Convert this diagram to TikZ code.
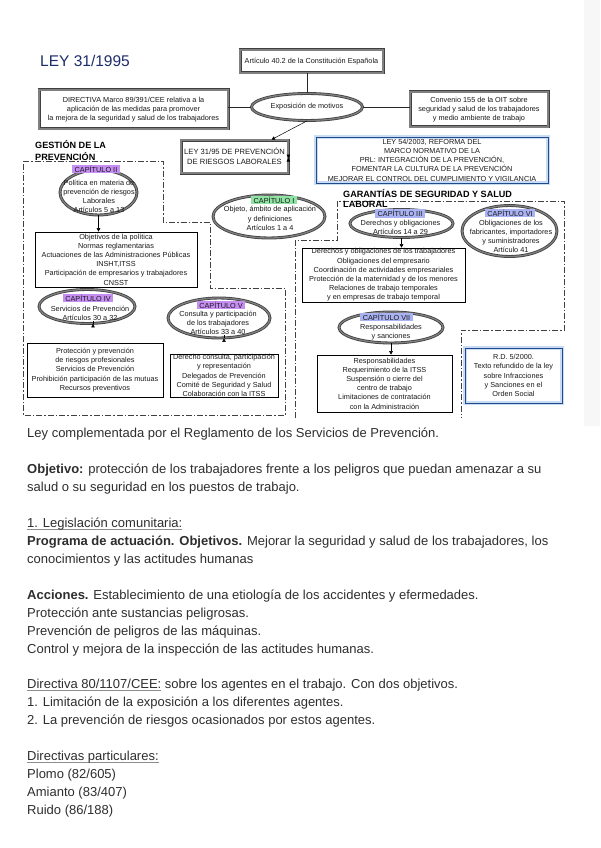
\documentclass[tikz,border=0pt]{standalone}
\usepackage{fontspec}
\setmainfont{Liberation Sans}
\usetikzlibrary{shapes.geometric,arrows.meta,calc}
\definecolor{titleblue}{HTML}{1F2D6B}
\definecolor{hlpurple}{HTML}{C68DF3}
\definecolor{hlgreen}{HTML}{8FE3A3}
\definecolor{hlblue}{HTML}{A9B2F3}
\definecolor{rdblue}{HTML}{1F4A8C}
\definecolor{glowblue}{HTML}{C9DCF4}
\definecolor{bodytext}{HTML}{2E2E2E}
\definecolor{pagegray}{HTML}{F7F7F7}
\newcommand\grayul[1]{\setbox0\hbox{#1}\leavevmode\rlap{\color{black!45}\rule[-2.4pt]{\wd0}{0.7pt}}\box0\relax}
\tikzset{
 small/.style={font=\fontsize{7.3}{9.2}\selectfont, align=center, inner sep=0pt, text=black!90},
 dbox/.style={draw=black!75, line width=0.8pt, double=black!50, double distance=1.4pt},
 pbox/.style={draw=black, line width=0.6pt},
 bbox/.style={draw=rdblue, line width=0.9pt, preaction={draw=glowblue, line width=4pt}},
 oval/.style={ellipse, draw=black!75, line width=0.8pt, double=black!50, double distance=1.3pt, inner sep=0pt},
 region/.style={draw=black!75, line width=0.7pt, dash pattern=on 6pt off 2pt on 1.5pt off 2pt},
 arr/.style={-{Triangle[length=3.5pt,width=3.5pt]}, line width=0.5pt},
 dblarr/.style={{Triangle[length=3.5pt,width=3.5pt]}-{Triangle[length=3.5pt,width=3.5pt]}, line width=0.6pt},
 ln/.style={line width=0.6pt, draw=black!85},
 lbl/.style={small, inner xsep=2.5pt, inner ysep=1pt},
 head/.style={font=\fontsize{9.1}{10}\selectfont\bfseries, anchor=base west, inner sep=0pt},
 body/.style={font=\fontsize{13}{15}\selectfont, anchor=base west, inner sep=0pt, text=bodytext},
}
\begin{document}
\begin{tikzpicture}[x=1pt,y=-1pt]
\useasboundingbox (0,0) rectangle (600,848);
\fill[white] (0,0) rectangle (600,848);
\fill[pagegray] (584,0) rectangle (600,426);

% dash-dot regions
\draw[region] (23,161) -- (163,161) -- (163,222) -- (210,222) -- (210,288) -- (285,288) -- (285,415) -- (23,415) -- cycle;
\draw[region] (295,418) -- (295,240) -- (337,240) -- (337,201) -- (564,201) -- (564,330) -- (461,330) -- (461,418);

% title and headings
\node[font=\fontsize{15.5}{18}\selectfont, text=titleblue, anchor=base west, inner sep=0pt] (title) at (40,67) {LEY 31/1995};
\node[head] (gest1) at (35,149) {GESTIÓN DE LA};
\node[head] (gest2) at (35,160) {PREVENCIÓN};
\node[head] (gar1) at (343,197) {GARANTÍAS DE SEGURIDAD Y SALUD};
\node[head] (gar2) at (343,207) {LABORAL};

% top boxes
\node[dbox, small, minimum width=143, minimum height=23] (art) at (311.5,61.5) {Artículo 40.2 de la Constitución Española};
\node[oval, small, minimum width=111, minimum height=27] (exp) at (307,107) {Exposición de motivos};
\node[dbox, small, minimum width=189, minimum height=39] (dir) at (133.5,109.5) {DIRECTIVA Marco 89/391/CEE relativa a la\\aplicación de las medidas para promover\\la mejora de la seguridad y salud de los trabajadores};
\node[dbox, small, minimum width=138, minimum height=35] (conv) at (479,109.5) {Convenio 155 de la OIT sobre\\seguridad y salud de los trabajadores\\y medio ambiente de trabajo};
\node[dbox, small, font=\fontsize{7.6}{9.8}\selectfont, minimum width=107, minimum height=33] (ley3195) at (234.5,156.5) {LEY 31/95 DE PREVENCIÓN\\DE RIESGOS LABORALES};
\node[bbox, small, minimum width=232, minimum height=46] (ley54) at (432,160) {LEY  54/2003, REFORMA DEL\\MARCO NORMATIVO  DE LA\\PRL: INTEGRACIÓN DE LA PREVENCIÓN,\\FOMENTAR  LA CULTURA DE LA PREVENCIÓN\\MEJORAR EL CONTROL DEL CUMPLIMIENTO  Y VIGILANCIA};

\draw[ln] (exp.north) -- (exp.north |- art.south);
\draw[ln] (exp.west) -- (exp.west -| dir.east);
\draw[ln] (exp.east) -- (exp.east -| conv.west);
\draw[arr] (exp.south) -- ($(ley3195.north)+(37,0)$);
\draw[dblarr] ($(ley3195.east)+(0,1.5)$) -- ($(ley3195.east)+(0,1.5)$ -| ley54.west);

% chapter ellipses
\node[oval, minimum width=77, minimum height=45] (cap2) at (98.5,192.5) {};
\node[lbl, fill=hlpurple] (cap2lbl) at (96,169) {CAPÍTULO II};
\node[small] (cap2txt) at (99,196.5) {Política en materia de\\prevención de riesgos\\Laborales\\Artículos 5 a 13};

\node[oval, minimum width=112, minimum height=43] (cap1) at (269,216.5) {};
\node[lbl, fill=hlgreen] (cap1lbl) at (274,200) {CAPÍTULO I};
\node[small] (cap1txt) at (270,218.5) {Objeto, ámbito de aplicación\\y definiciones\\Artículos 1 a 4};

\node[oval, minimum width=96, minimum height=34] (cap4) at (87,306.5) {};
\node[lbl, fill=hlpurple] (cap4lbl) at (88,298) {CAPÍTULO IV};
\node[small] (cap4txt) at (90,313.5) {Servicios de Prevención\\Artículos 30 a 32};

\node[oval, minimum width=102, minimum height=40] (cap5) at (219,318) {};
\node[lbl, fill=hlpurple] (cap5lbl) at (221,305) {CAPÍTULO V};
\node[small] (cap5txt) at (218,323) {Consulta y participación\\de los trabajadores\\Artículos 33 a 40};

\node[oval, minimum width=103, minimum height=28] (cap3) at (401.5,223.5) {};
\node[lbl, fill=hlblue] (cap3lbl) at (400,213.5) {CAPÍTULO III};
\node[small] (cap3txt) at (400.5,227.5) {Derechos y obligaciones\\Artículos 14 a 29};

\node[oval, minimum width=95, minimum height=51] (cap6) at (509.5,231) {};
\node[lbl, fill=hlblue] (cap6lbl) at (510,213) {CAPÍTULO VI};
\node[small] (cap6txt) at (511,236.5) {Obligaciones de los\\fabricantes, importadores\\y suministradores\\Artículo 41};

\node[oval, minimum width=104, minimum height=31] (cap7) at (391,327.5) {};
\node[lbl, fill=hlblue] (cap7lbl) at (386.5,317) {CAPÍTULO VII};
\node[small] (cap7txt) at (391,332) {Responsabilidades\\y sanciones};

% content boxes
\node[pbox, small, minimum width=162, minimum height=55] (polbox) at (116,259.5) {Objetivos de la política\\Normas reglamentarias\\Actuaciones de las Administraciones Públicas\\INSHT,ITSS\\Participación de empresarios y trabajadores\\CNSST};
\node[pbox, small, minimum width=136, minimum height=54] (b4) at (95,370) {Protección y prevención\\de riesgos profesionales\\Servicios de Prevención\\Prohibición participación de las mutuas\\Recursos preventivos};
\node[pbox, small, minimum width=108, minimum height=43] (b5) at (224,375.5) {Derecho consulta, participación\\y representación\\Delegados de Prevención\\Comité de Seguridad y Salud\\Colaboración con la ITSS};
\node[pbox, small, minimum width=163, minimum height=54] (b3) at (383.5,275) {Derechos y obligaciones de los trabajadores\\Obligaciones del empresario\\Coordinación de actividades empresariales\\Protección de la maternidad  y de los menores\\Relaciones de trabajo temporales\\y en empresas de trabajo temporal};
\node[pbox, small, minimum width=135, minimum height=57] (b7) at (384.5,383.5) {Responsabilidades\\Requerimiento de la ITSS\\Suspensión o cierre del\\centro de trabajo\\Limitaciones de contratación\\con la Administración};
\node[bbox, small, minimum width=97, minimum height=55] (rd) at (513.5,375.5) {R.D. 5/2000.\\Texto refundido de la ley\\sobre Infracciones\\y Sanciones en el\\Orden Social};

% arrows ellipse -> box
\draw[arr] (cap2.south) -- (cap2.south |- polbox.north);
\draw[arr] ($(cap4.south)+(6,0)$) -- ($(cap4.south)+(6,0)$ |- b4.north);
\draw[arr] ($(cap5.south)+(5,0)$) -- ($(cap5.south)+(5,0)$ |- b5.north);
\draw[arr] (cap3.south) -- (cap3.south |- b3.north);
\draw[arr] (cap7.south) -- (cap7.south |- b7.north);

% body text
\node[body] (t1) at (27,437) {Ley complementada por el Reglamento de los Servicios de Prevención.};
\node[body] (t2) at (27,473) {\textbf{Objetivo:} protección de los trabajadores frente a los peligros que puedan amenazar a su};
\node[body] (t3) at (27,491) {salud o su seguridad en los puestos de trabajo.};
\node[body] (t4) at (27,527) {\grayul{1. Legislación comunitaria:}};
\node[body] (t5) at (27,545) {\textbf{Programa de actuación. Objetivos.} Mejorar la seguridad y salud de los trabajadores, los};
\node[body] (t6) at (27,563) {conocimientos y las actitudes humanas};
\node[body] (t7) at (27,599) {\textbf{Acciones.} Establecimiento de una etiología de los accidentes y efermedades.};
\node[body] (t8) at (27,617) {Protección ante sustancias peligrosas.};
\node[body] (t9) at (27,635) {Prevención de peligros de las máquinas.};
\node[body] (t10) at (27,653) {Control y mejora de la inspección de las actitudes humanas.};
\node[body] (t11) at (27,688) {\grayul{Directiva 80/1107/CEE:} sobre los agentes en el trabajo. Con dos objetivos.};
\node[body] (t12) at (27,706) {1. Limitación de la exposición a los diferentes agentes.};
\node[body] (t13) at (27,724) {2. La prevención de riesgos ocasionados por estos agentes.};
\node[body] (t14) at (27,760) {\grayul{Directivas particulares:}};
\node[body] (t15) at (27,778) {Plomo (82/605)};
\node[body] (t16) at (27,796) {Amianto (83/407)};
\node[body] (t17) at (27,814) {Ruido (86/188)};
\end{tikzpicture}
\end{document}
